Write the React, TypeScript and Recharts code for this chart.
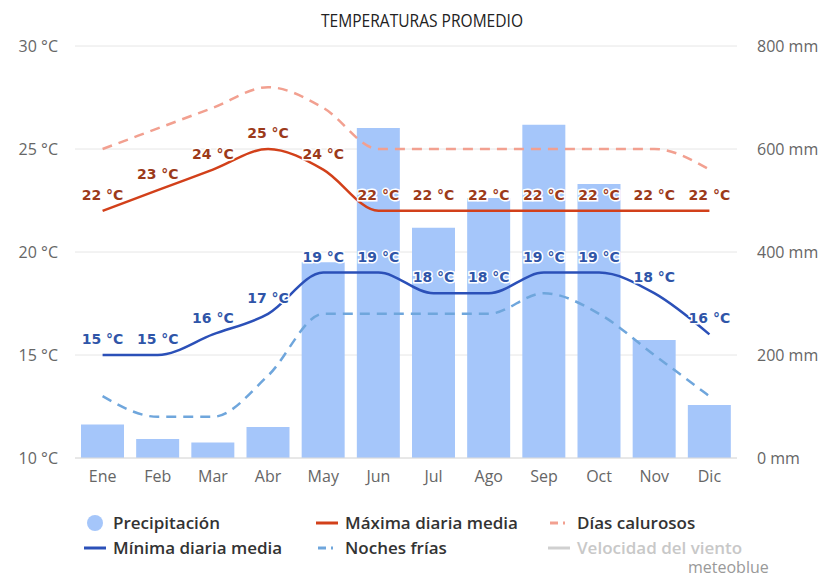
import React from 'react';
import { ComposedChart, Bar, Line, XAxis, YAxis, CartesianGrid, LabelList } from 'recharts';

const months = ['Ene', 'Feb', 'Mar', 'Abr', 'May', 'Jun', 'Jul', 'Ago', 'Sep', 'Oct', 'Nov', 'Dic'];
const precipitation = [65, 37, 30, 60, 380, 641, 447, 505, 647, 532, 229, 103];
const maxDaily = [22, 23, 24, 25, 24, 22, 22, 22, 22, 22, 22, 22];
const minDaily = [15, 15, 16, 17, 19, 19, 18, 18, 19, 19, 18, 16];
const hotDays = [25, 26, 27, 28, 27, 25, 25, 25, 25, 25, 25, 24];
const coldNights = [13, 12, 12, 14, 17, 17, 17, 17, 18, 17, 15, 13];
const tempTicks = [10, 15, 20, 25, 30];
const mmTicks = [0, 200, 400, 600, 800];

const data = months.map((m, i) => ({
  month: m,
  precip: precipitation[i],
  max: maxDaily[i],
  min: minDaily[i],
  hot: hotDays[i],
  cold: coldNights[i],
}));

const FONT = '"Open Sans", sans-serif';

const makeLabel = (color: string) => (props: any) => {
  const { x, y, value } = props;
  return (
    <text
      x={x}
      y={y - 11}
      textAnchor="middle"
      fill={color}
      stroke="#fff"
      strokeWidth={3}
      paintOrder="stroke"
      fontFamily='"DejaVu Sans", sans-serif'
      fontWeight="bold"
      fontSize={14}
    >
      {value} °C
    </text>
  );
};

function LegendItem({ kind, color, label, muted }: { kind: string; color: string; label: string; muted?: boolean }) {
  let icon;
  if (kind === 'circle') {
    icon = <circle cx={11} cy={8} r={8} fill={color} />;
  } else if (kind === 'dash') {
    icon = (
      <g stroke={color} strokeWidth={3}>
        <line x1={2} y1={8} x2={10} y2={8} />
        <line x1={15} y1={8} x2={17} y2={8} />
      </g>
    );
  } else {
    icon = <line x1={0} y1={8} x2={22} y2={8} stroke={color} strokeWidth={3} />;
  }
  return (
    <div style={{ display: 'flex', alignItems: 'center', width: 232, height: 25 }}>
      <svg width={22} height={16} style={{ marginRight: 7 }}>{icon}</svg>
      <span style={{ fontFamily: FONT, fontSize: 17, fontWeight: 600, color: muted ? '#c8c8c8' : '#333', lineHeight: '25px' }}>{label}</span>
    </div>
  );
}

export default function App() {
  return (
    <div style={{ position: 'absolute', left: 0, top: 0, width: 822, height: 577, background: '#fff', overflow: 'hidden' }}>
      <svg width={822} height={40} style={{ position: 'absolute', left: 0, top: 0 }}>
        <text x={321} y={27} textLength={202} lengthAdjust="spacingAndGlyphs" fontFamily={FONT} fontSize={19} fill="#222">
          TEMPERATURAS PROMEDIO
        </text>
      </svg>
      <div style={{ position: 'absolute', left: 0, top: 0 }}>
        <ComposedChart width={822} height={500} data={data} margin={{ top: 46, right: 0, left: 0, bottom: 0 }} barCategoryGap={6}>
          <CartesianGrid vertical={false} stroke="#e6e6e6" yAxisId="t" />
          <XAxis
            dataKey="month"
            tickLine={false}
            tickSize={0}
            tickMargin={13}
            height={42}
            axisLine={{ stroke: '#dcdcdc' }}
            tick={{ fill: '#666', fontSize: 16, fontFamily: FONT }}
          />
          <YAxis
            yAxisId="t"
            orientation="left"
            width={75}
            domain={[10, 30]}
            ticks={tempTicks}
            tickFormatter={(v) => `${v} °C`}
            axisLine={false}
            tickLine={false}
            tickSize={0}
            tickMargin={17}
            tick={{ fill: '#666', fontSize: 16, fontFamily: FONT }}
          />
          <YAxis
            yAxisId="mm"
            orientation="right"
            width={85}
            domain={[0, 800]}
            ticks={mmTicks}
            tickFormatter={(v) => `${v} mm`}
            axisLine={false}
            tickLine={false}
            tickSize={0}
            tickMargin={20}
            tick={{ fill: '#666', fontSize: 16, fontFamily: FONT }}
          />
          <Bar yAxisId="mm" dataKey="precip" fill="#a5c6fa" isAnimationActive={false} />
          <Line yAxisId="t" type="monotone" dataKey="hot" stroke="#f2a090" strokeWidth={2.5} strokeDasharray="10 7" dot={false} isAnimationActive={false} />
          <Line yAxisId="t" type="monotone" dataKey="cold" stroke="#6fa6dc" strokeWidth={2.5} strokeDasharray="10 7" dot={false} isAnimationActive={false} />
          <Line yAxisId="t" type="monotone" dataKey="max" stroke="#d2401a" strokeWidth={2.5} dot={false} isAnimationActive={false}>
            <LabelList dataKey="max" content={makeLabel('#9c3a1a')} />
          </Line>
          <Line yAxisId="t" type="monotone" dataKey="min" stroke="#2b50b8" strokeWidth={2.5} dot={false} isAnimationActive={false}>
            <LabelList dataKey="min" content={makeLabel('#2f55a8')} />
          </Line>
        </ComposedChart>
      </div>
      <div style={{ position: 'absolute', left: 84, top: 510, display: 'flex', flexWrap: 'wrap', width: 700 }}>
        <LegendItem kind="circle" color="#a5c6fa" label="Precipitación" />
        <LegendItem kind="line" color="#d2401a" label="Máxima diaria media" />
        <LegendItem kind="dash" color="#f2a090" label="Días calurosos" />
        <LegendItem kind="line" color="#2b50b8" label="Mínima diaria media" />
        <LegendItem kind="dash" color="#6fa6dc" label="Noches frías" />
        <LegendItem kind="line" color="#d0d0d0" label="Velocidad del viento" muted />
      </div>
      <div style={{ position: 'absolute', left: 688, top: 558, fontFamily: FONT, fontSize: 16, color: '#999', lineHeight: '18px' }}>meteoblue</div>
    </div>
  );
}
